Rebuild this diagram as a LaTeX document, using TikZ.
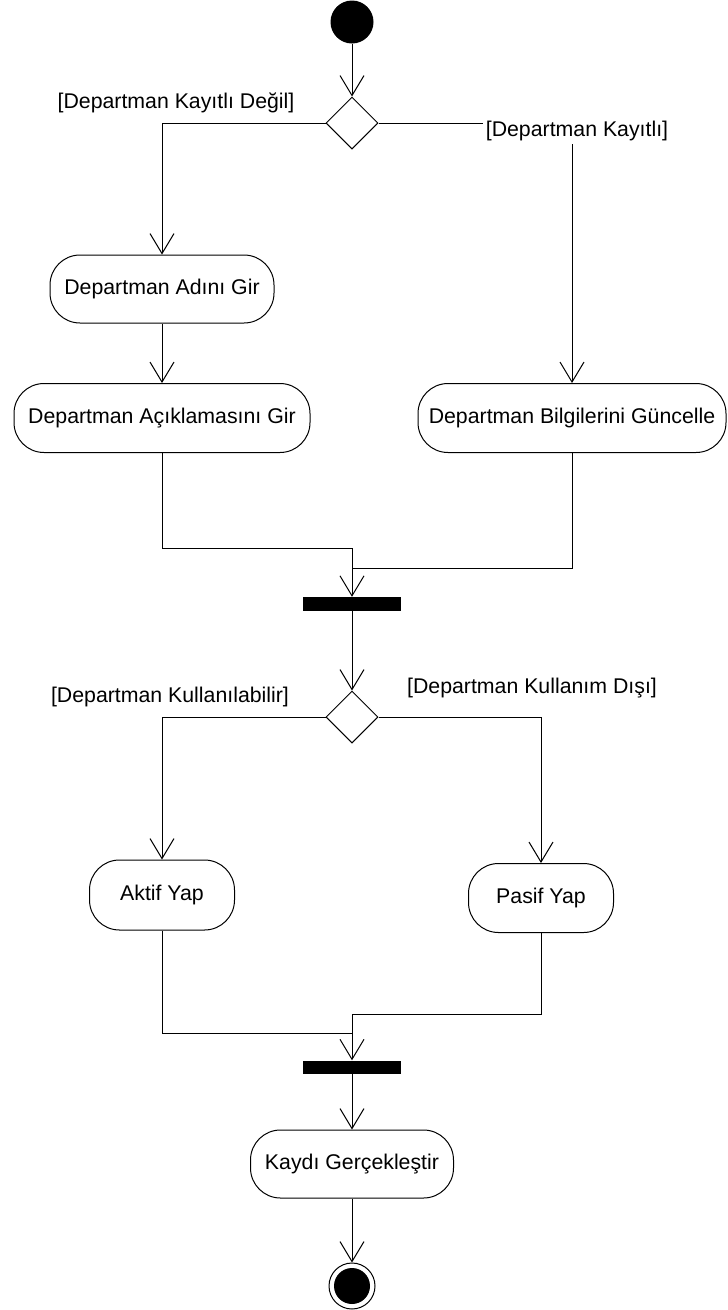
\documentclass[tikz,border=0pt]{standalone}
\usepackage{fontspec}
\setmainfont{Liberation Sans}
\usetikzlibrary{arrows.meta,shapes.geometric}
\begin{document}
\begin{tikzpicture}[x=1pt,y=-1pt,
  every node/.style={font=\fontsize{21.3}{25}\selectfont},
  act/.style={draw,line width=1pt,rounded corners=30pt,minimum height=68pt,inner sep=2pt},
  dec/.style={draw,diamond,line width=1pt,minimum size=52pt,inner sep=0pt},
  bar/.style={fill=black,draw=none,minimum width=98pt,minimum height=14pt,inner sep=0pt},
  flow/.style={line width=1pt,-{Straight Barb[length=20pt,width=24pt,line width=1pt]}},
  plain/.style={line width=1pt},
  guard/.style={inner sep=2pt}
]
\useasboundingbox[fill=white] (0,0) rectangle (728,1310);

\node[circle,fill=black,minimum size=43pt,inner sep=0pt] (start) at (352,22) {};
\node[dec] (d1) at (352,123) {};
\node[act,minimum width=224pt] (adini) at (162,289) {Departman Adını Gir};
\node[act,minimum width=296pt,minimum height=69pt] (aciklama) at (162,418) {Departman Açıklamasını Gir};
\node[act,minimum width=308pt,minimum height=69pt] (bilgi) at (572,418) {Departman Bilgilerini Güncelle};
\node[bar] (bar1) at (352,604) {};
\node[dec] (d2) at (352,717) {};
\node[act,minimum width=145pt,minimum height=70pt] (aktif) at (162,895) {Aktif Yap};
\node[act,minimum width=145pt,minimum height=69pt] (pasif) at (541,898) {Pasif Yap};
\node[bar,minimum height=13pt] (bar2) at (352,1067) {};
\node[act,minimum width=203pt] (kaydi) at (352,1164) {Kaydı Gerçekleştir};
\node[circle,draw,line width=1pt,minimum size=46pt,inner sep=0pt] (end) at (352,1286) {};
\node[circle,fill=black,minimum size=36pt,inner sep=0pt] (endin) at (352,1286) {};

\coordinate (j1) at (352,548);
\coordinate (j2) at (352,568);
\coordinate (j3) at (352,1033);
\coordinate (j4) at (352,1014);

\draw[flow] (start) -- (d1.north);
\draw[flow] (d1.west) -| (adini.north);
\draw[flow] (d1.east) -| (bilgi.north);
\draw[flow] (adini.south) -- (aciklama.north);
\draw[flow] (aciklama.south) |- (j1) -- (bar1.north);
\draw[plain] (bilgi.south) |- (j2);
\draw[flow] (bar1.south) -- (d2.north);
\draw[flow] (d2.west) -| (aktif.north);
\draw[flow] (d2.east) -| (pasif.north);
\draw[flow] (aktif.south) |- (j3) -- (bar2.north);
\draw[plain] (pasif.south) |- (j4) -- (j3);
\draw[flow] (bar2.south) -- (kaydi.north);
\draw[flow] (kaydi.south) -- (end.north);

\node[guard] (g1) at (176,103) {[Departman Kayıtlı Değil]};
\node[guard,fill=white,inner sep=3pt] (g2) at (577,131) {[Departman Kayıtlı]};
\node[guard] (g3) at (170,697) {[Departman Kullanılabilir]};
\node[guard] (g4) at (532,688) {[Departman Kullanım Dışı]};
\end{tikzpicture}
\end{document}
